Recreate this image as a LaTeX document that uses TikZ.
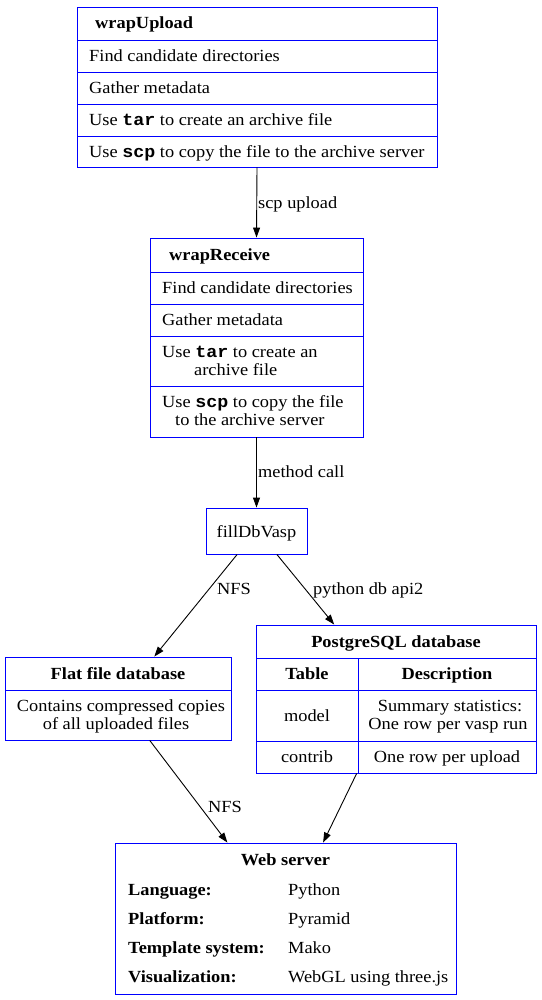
\documentclass[tikz,border=0pt]{standalone}
\usepackage{fontspec}
\setmainfont{Liberation Serif}[FakeStretch=1.08]
\setmonofont{Liberation Mono}[FakeStretch=1.08]
\usetikzlibrary{arrows.meta,calc}
\tikzset{
  box/.style={draw=blue, line width=0.9pt, inner sep=0pt, minimum width=#1},
  txt/.style={inner sep=0pt, font=\fontsize{17}{18}\selectfont, text height=11.9pt, text depth=4.2pt, yshift=-1.2pt},
  lft/.style={txt, anchor=west},
  hdr/.style={txt, font=\fontsize{17}{18}\selectfont\bfseries},
  div/.style={draw=blue, line width=0.9pt},
  conn/.style={draw=black, line width=0.9pt, -{Triangle[length=10pt,width=7pt]}},
  elab/.style={txt, anchor=west}
}
\newcommand{\tm}[1]{\texttt{\bfseries #1}}
\begin{document}
\begin{tikzpicture}[x=1pt,y=-1pt]
\useasboundingbox (0,0) rectangle (541,1000);
% wrapUpload
\node[box=360pt, minimum height=160pt] (upload) at (257,87) {};
\draw[div] (77,40) -- (437,40) (77,72) -- (437,72) (77,104) -- (437,104) (77,136) -- (437,136);
\node[hdr, anchor=west] (uploadh) at (95,23.5) {wrapUpload};
\node[lft] (u1) at (89,56) {Find candidate directories};
\node[lft] (u2) at (89,88) {Gather metadata};
\node[lft] (u3) at (89,120) {Use \tm{tar} to create an archive file};
\node[lft] (u4) at (89,152) {Use \tm{scp} to copy the file to the archive server};
% wrapReceive
\node[box=213pt, minimum height=199pt] (receive) at (256.5,337.5) {};
\draw[div] (150,272) -- (363,272) (150,304) -- (363,304) (150,336) -- (363,336) (150,386) -- (363,386);
\node[hdr, anchor=west] (receiveh) at (169,255.5) {wrapReceive};
\node[lft] (r1) at (162,288) {Find candidate directories};
\node[lft] (r2) at (162,320) {Gather metadata};
\node[lft] (r3a) at (162,352) {Use \tm{tar} to create an};
\node[lft] (r3b) at (194,370) {archive file};
\node[lft] (r4a) at (162,402) {Use \tm{scp} to copy the file};
\node[lft] (r4b) at (175,420) {to the archive server};
% fillDbVasp
\node[box=101pt, minimum height=46pt] (fill) at (256.5,531) {};
\node[txt] (fillt) at (256.5,532) {fillDbVasp};
% Flat file database
\node[box=226pt, minimum height=83pt] (flat) at (118,698.5) {};
\draw[div] (5,690) -- (231,690);
\node[hdr] (flath) at (118,674) {Flat file database};
\node[txt] (flatt1) at (121,706) {Contains compressed copies};
\node[txt] (flatt2) at (116,724) {of all uploaded files};
% PostgreSQL
\node[box=280pt, minimum height=148pt] (pg) at (396,699) {};
\draw[div] (256,658) -- (536,658) (256,690) -- (536,690) (256,741) -- (536,741) (358,658) -- (358,773);
\node[hdr] (pgh) at (396,642) {PostgreSQL database};
\node[hdr] (pgc1) at (307,674) {Table};
\node[hdr] (pgc2) at (447,674) {Description};
\node[txt] (pgm) at (307,716) {model};
\node[txt] (pgmd1) at (450,706) {Summary statistics:};
\node[txt] (pgmd2) at (448,724) {One row per vasp run};
\node[txt] (pgc) at (307,757.5) {contrib};
\node[txt] (pgcd) at (447,757.5) {One row per upload};
% Web server
\node[box=341pt, minimum height=151pt] (web) at (285.5,918.5) {};
\node[hdr] (webh) at (285.5,860) {Web server};
\node[hdr, anchor=west] (w1) at (128,890) {Language:};
\node[hdr, anchor=west] (w2) at (128,919) {Platform:};
\node[hdr, anchor=west] (w3) at (128,948) {Template system:};
\node[hdr, anchor=west] (w4) at (128,977) {Visualization:};
\node[lft] (v1) at (288,890) {Python};
\node[lft] (v2) at (288,919) {Pyramid};
\node[lft] (v3) at (288,948) {Mako};
\node[lft] (v4) at (288,977) {WebGL using three.js};
% connectors
\draw[conn] (upload.south) -- (receive.north);
\node[elab] at (258,203) {scp upload};
\draw[conn] (receive.south) -- (fill.north);
\node[elab] at (258,472) {method call};
\draw[conn] ($(fill.south west)!0.31!(fill.south east)$) -- ($(flat.north west)!0.66!(flat.north east)$);
\node[elab] at (217,589) {NFS};
\draw[conn] ($(fill.south west)!0.70!(fill.south east)$) -- ($(pg.north west)!0.28!(pg.north east)$);
\node[elab] at (313,589) {python db api2};
\draw[conn] ($(flat.south west)!0.64!(flat.south east)$) -- ($(web.north west)!0.33!(web.north east)$);
\node[elab] at (208,807) {NFS};
\draw[conn] ($(pg.south west)!0.36!(pg.south east)$) -- ($(web.north west)!0.61!(web.north east)$);
\end{tikzpicture}
\end{document}
